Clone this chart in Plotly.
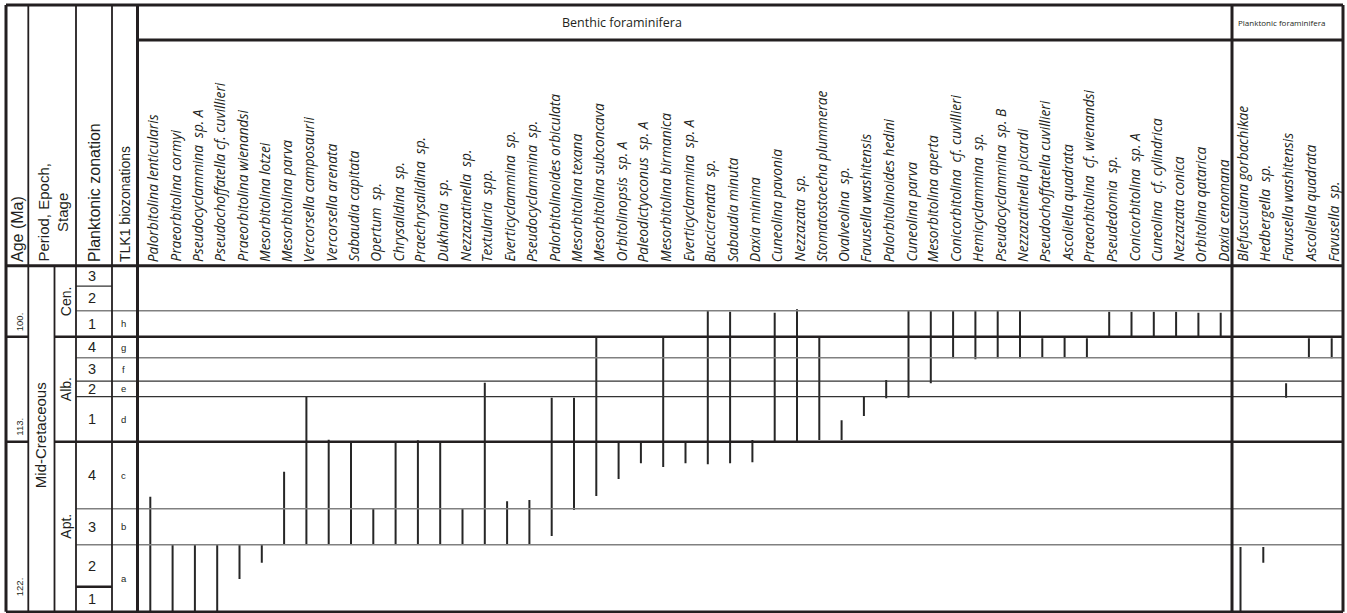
import plotly.graph_objects as go

W, H = 1347, 613

# ---------------- data ----------------
# stratigraphic level: 0 = base of the chart column, 346 = top of the column
benthic_species = [
    "Palorbitolina lenticularis", "Praeorbitolina cormyi", "Pseudocyclammina  sp. A",
    "Pseudochoffatella cf. cuvillieri", "Praeorbitolina wienandsi", "Mesorbitolina lotzei",
    "Mesorbitolina parva", "Vercorsella camposaurii", "Vercorsella arenata",
    "Sabaudia capitata", "Opertum  sp.", "Chrysalidina  sp.", "Praechrysalidina  sp.",
    "Dukhania  sp.", "Nezzazatinella  sp.", "Textularia  spp.", "Everticyclammina  sp.",
    "Pseudocyclammina  sp.", "Palorbitolinoides orbiculata", "Mesorbitolina texana",
    "Mesorbitolina subconcava", "Orbitolinopsis  sp. A", "Paleodictyoconus  sp. A",
    "Mesorbitolina birmanica", "Everticyclammina  sp. A", "Buccicrenata  sp.",
    "Sabaudia minuta", "Daxia minima", "Cuneolina pavonia", "Nezzazata  sp.",
    "Stomatostoecha plummerae", "Ovalveolina  sp.", "Favusella washitensis",
    "Palorbitolinoides hedini", "Cuneolina parva", "Mesorbitolina aperta",
    "Conicorbitolina  cf. cuvillieri", "Hemicyclammina  sp.", "Pseudocyclammina  sp. B",
    "Nezzazatinella picardi", "Pseudochoffatella cuvillieri", "Ascoliella quadrata",
    "Praeorbitolina  cf. wienandsi", "Pseudedomia  sp.", "Conicorbitolina  sp. A",
    "Cuneolina  cf. cylindrica", "Nezzazata conica", "Orbitolina qatarica", "Daxia cenomana",
]
benthic_base = [
    0, 0, 0, 0, 32.7, 49, 67, 67, 67, 67, 67, 67, 67, 67, 67, 67, 67, 67,
    75.7, 101.7, 115.7, 132.7, 148.4, 144.7, 148.4, 147.4, 148.4, 149.4,
    170, 170, 171.7, 171.7, 195.7, 213.4, 214, 228.4, 253.4, 252.4, 253.4, 253.4,
    254, 254, 254, 275.7, 275.7, 275.7, 275.7, 275.7, 275.7,
]
benthic_top = [
    115, 67, 67, 67, 67, 67, 140, 215, 172, 170, 103, 170, 171.4, 170, 103, 229, 110.4, 111.7,
    214, 214, 274, 170, 170, 274, 170, 301, 300, 171.7,
    299, 302.4, 274, 191.4, 215.7, 231.7, 301, 301, 301, 301, 301, 301,
    273.4, 274, 273.4, 300, 300, 300, 300, 299, 299,
]

planktonic_species = [
    "Blefuscuiana gorbachikae", "Hedbergella  sp.", "Favusella washitensis",
    "Ascoliella quadrata", "Favusella  sp.",
]
planktonic_base = [0, 49, 214, 253.4, 253.4]
planktonic_top = [64.7, 64.7, 228.4, 273.4, 273.4]

# zonal framework
zone_bounds = [0, 25, 67, 103, 170, 215, 230.5, 254, 275, 301, 325.5, 346]
planktonic_zones = ["1", "2", "3", "4", "1", "2", "3", "4", "1", "2", "3"]
tlk1_bounds = [0, 67, 103, 170, 215, 230.5, 254, 275, 301]
tlk1_zones = ["a", "b", "c", "d", "e", "f", "g", "h"]
stage_bounds = [0, 170, 275, 346]
stages = ["Apt.", "Alb.", "Cen."]
age_labels = ["122.", "113.", "100."]
age_label_levels = [14.5, 174.5, 279.5]

# ---------------- layout geometry (pixels) ----------------
TXT = "#231f20"
LINE = "#231f20"
GRAY = "#808080"
SANS = "Liberation Sans, Arial, sans-serif"
HUM = "Open Sans, Lato, sans-serif"

L, R, T = 6, 1343, 5
HB, HEAD = 40, 265.7
BOT = 611.7
C_AGE, C_STG, C_PZ, C_TLK, C_CH, C_PL = 28.3, 54.5, 76, 112, 137.5, 1232
X0, DX = 150.3, 22.3      # benthic column positions
P0, DP = 1240.5, 22.8     # planktonic column positions
LEVEL_TOP = zone_bounds[-1]


def px(x):
    return x / W


def py(y):
    return 1 - y / H


fig = go.Figure()


def segs(bases, tops):
    xs, ys = [], []
    for i, (b, t) in enumerate(zip(bases, tops)):
        xs += [i, i, None]
        ys += [b, t, None]
    return xs, ys


bx, by = segs(benthic_base, benthic_top)
fig.add_trace(go.Scatter(x=bx, y=by, mode="lines", xaxis="x", yaxis="y",
                         line=dict(color="#262626", width=2), hoverinfo="skip"))
pxs, pys = segs(planktonic_base, planktonic_top)
fig.add_trace(go.Scatter(x=pxs, y=pys, mode="lines", xaxis="x2", yaxis="y",
                         line=dict(color="#262626", width=2), hoverinfo="skip"))

shapes = []


def hline_px(y, x0, x1, w, c=LINE):
    shapes.append(dict(type="line", xref="paper", yref="paper", x0=px(x0), x1=px(x1),
                       y0=py(y), y1=py(y), line=dict(color=c, width=w)))


def vline_px(x, y0, y1, w, c=LINE):
    shapes.append(dict(type="line", xref="paper", yref="paper", x0=px(x), x1=px(x),
                       y0=py(y0), y1=py(y1), line=dict(color=c, width=w)))


def hline_lvl(lv, x0, x1, w, c=LINE):
    shapes.append(dict(type="line", xref="paper", yref="y", x0=px(x0), x1=px(x1),
                       y0=lv, y1=lv, line=dict(color=c, width=w)))


dark_zone = {215, 230.5}
for lv in zone_bounds[1:-1]:
    if lv in stage_bounds:
        hline_lvl(lv, L, C_AGE, 2.6)
        hline_lvl(lv, C_STG, R, 2.6)
    elif lv in tlk1_bounds:
        if lv in dark_zone:
            hline_lvl(lv, C_PZ, R, 1.3, "#333333")
        else:
            hline_lvl(lv, C_PZ, R, 1.6, GRAY)
    else:
        if lv < 100:
            hline_lvl(lv, C_PZ, C_TLK, 2.4)
        else:
            hline_lvl(lv, C_PZ, C_TLK, 1.3, "#333333")

hline_px(T, L, R, 3)
hline_px(HB, C_CH, R, 3)
hline_px(HEAD, L, R, 3)
hline_px(BOT, L, R, 2.6)
vline_px(L, T, BOT, 3)
vline_px(C_AGE, T, BOT, 1.8)
vline_px(C_STG, HEAD, BOT, 1.8)
vline_px(C_PZ, T, BOT, 1.8)
vline_px(C_TLK, T, BOT, 1.8)
vline_px(C_CH, T, BOT, 3)
vline_px(C_PL, T, BOT, 3)
vline_px(R, T, BOT, 3)

ann = []
SP_FONT = dict(family=HUM, size=13.7, color=TXT)
for i, name in enumerate(benthic_species):
    ann.append(dict(x=i, xref="x", y=py(263), yref="paper", text=f"<i>{name}</i>",
                    textangle=-90, xanchor="center", yanchor="bottom", showarrow=False,
                    borderpad=0, xshift=2, font=SP_FONT))
for i, name in enumerate(planktonic_species):
    ann.append(dict(x=i, xref="x2", y=py(263), yref="paper", text=f"<i>{name}</i>",
                    textangle=-90, xanchor="center", yanchor="bottom", showarrow=False,
                    borderpad=0, xshift=1, font=SP_FONT))

ann.append(dict(x=px(622), y=py(22), xref="paper", yref="paper", text="Benthic foraminifera",
                xanchor="center", yanchor="middle",
                showarrow=False, font=dict(family=HUM, size=12.5, color=TXT)))
ann.append(dict(x=px(1236), y=py(23), xref="paper", yref="paper", text="Planktonic foraminifera",
                showarrow=False, xanchor="left", yanchor="middle",
                font=dict(family=HUM, size=8, color=TXT)))


def rot_head(x, text, size):
    ann.append(dict(x=px(x), y=py(263), xref="paper", yref="paper", text=text, textangle=-90,
                    xanchor="center", yanchor="bottom", showarrow=False, borderpad=0,
                    align="center", font=dict(family=SANS, size=size, color=TXT)))


rot_head(17, "Age (Ma)", 16)
rot_head(52.5, "Period, Epoch,<br>Stage", 15)
rot_head(94.5, "Planktonic zonation", 16)
rot_head(125, "TLK1 biozonations", 14)

ann.append(dict(x=px(40.5), y=LEVEL_TOP / 2 + 3, xref="paper", yref="y",
                text="Mid-Cretaceous", textangle=-90, showarrow=False,
                xanchor="center", yanchor="middle",
                font=dict(family=SANS, size=15, color=TXT)))
for i, s in enumerate(stages):
    ann.append(dict(x=px(66), y=(stage_bounds[i] + stage_bounds[i + 1]) / 2, xref="paper",
                    yref="y", text=s, textangle=-90, showarrow=False,
                    xanchor="center", yanchor="middle",
                    font=dict(family=SANS, size=14, color=TXT)))
for i, z in enumerate(planktonic_zones):
    ann.append(dict(x=px(92), y=(zone_bounds[i] + zone_bounds[i + 1]) / 2, xref="paper",
                    yref="y", text=z, showarrow=False, xanchor="center", yanchor="middle",
                    font=dict(family=SANS, size=14.5, color=TXT)))
for i, z in enumerate(tlk1_zones):
    ann.append(dict(x=px(123.5), y=(tlk1_bounds[i] + tlk1_bounds[i + 1]) / 2, xref="paper",
                    yref="y", text=z, showarrow=False, xanchor="center", yanchor="middle",
                    font=dict(family=SANS, size=9.5, color=TXT)))
for a, lv in zip(age_labels, age_label_levels):
    ann.append(dict(x=px(19.5), y=lv, xref="paper", yref="y", text=a, textangle=-90,
                    xanchor="center", yanchor="bottom", showarrow=False, borderpad=0,
                    font=dict(family=SANS, size=9.5, color=TXT)))

ax_common = dict(visible=False, fixedrange=True, showgrid=False, zeroline=False)
fig.update_layout(
    width=W, height=H, autosize=False,
    margin=dict(l=0, r=0, t=0, b=0, pad=0),
    paper_bgcolor="white", plot_bgcolor="rgba(0,0,0,0)",
    showlegend=False,
    xaxis=dict(domain=[px(C_CH), px(C_PL)],
               range=[(C_CH - X0) / DX, (C_PL - X0) / DX], **ax_common),
    xaxis2=dict(domain=[px(C_PL), px(R)],
                range=[(C_PL - P0) / DP, (R - P0) / DP], anchor="y", **ax_common),
    yaxis=dict(domain=[py(BOT), py(HEAD)], range=[0, LEVEL_TOP], **ax_common),
    shapes=shapes,
    annotations=ann,
)

fig.write_html("out.html", config={"displayModeBar": False, "staticPlot": True},
               post_script="document.body.style.margin='0';document.body.style.overflow='hidden';")
